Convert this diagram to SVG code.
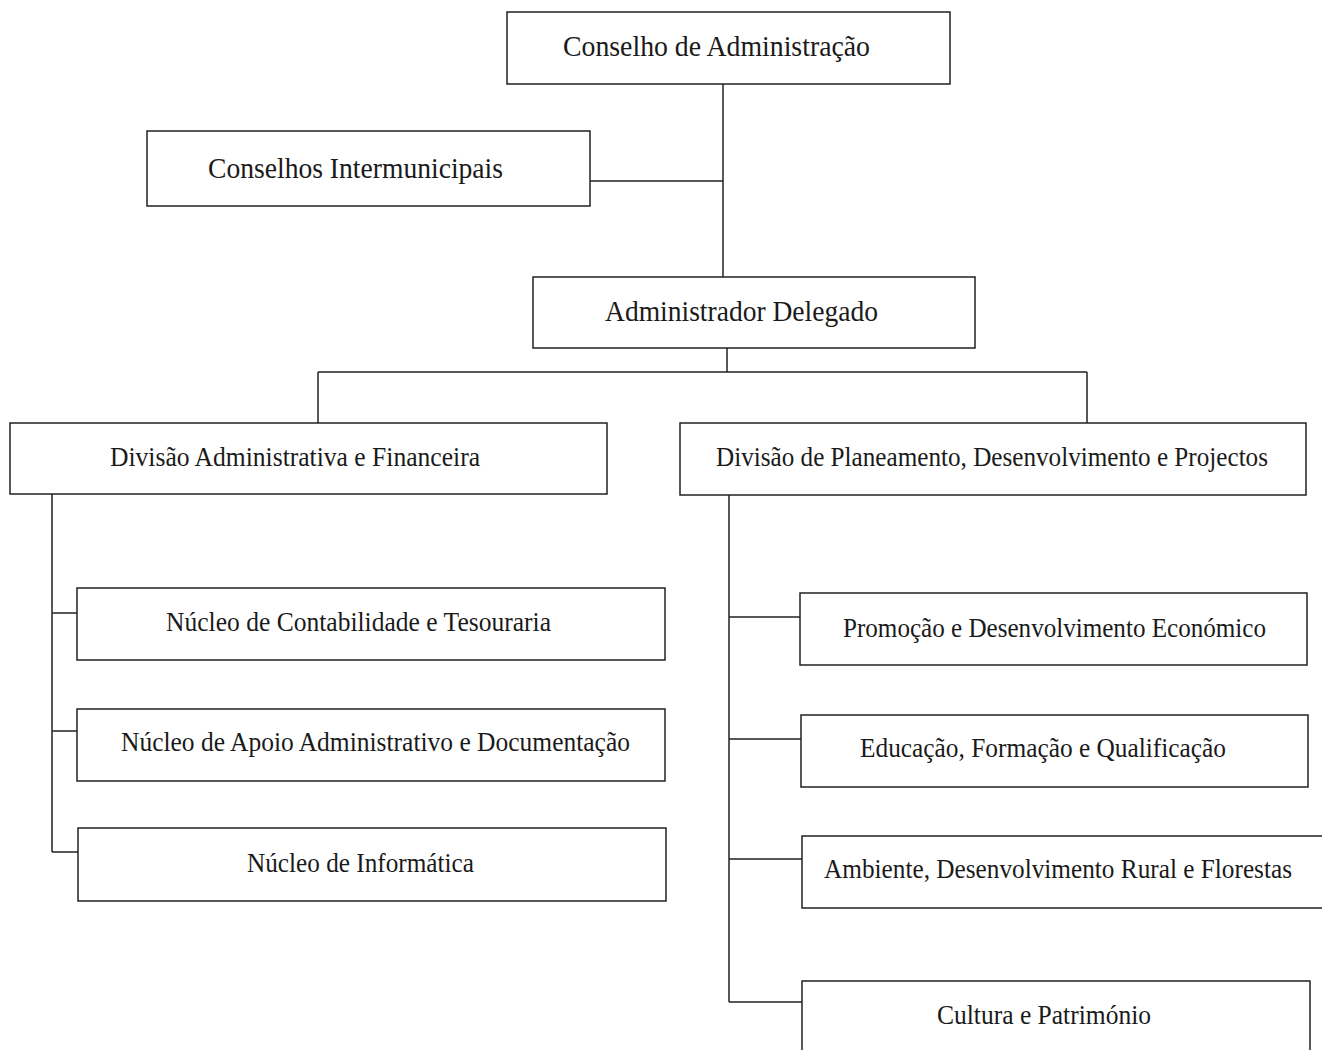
<svg xmlns="http://www.w3.org/2000/svg" width="1322" height="1050" viewBox="0 0 1322 1050">
<style>
.box{fill:#fff;stroke:#222;stroke-width:1.5}
.ln{fill:none;stroke:#222;stroke-width:1.5}
text{font-family:"Liberation Serif","Times New Roman",serif;fill:#1a1a1a;text-anchor:middle}
.t1{font-size:29px}
.t2{font-size:26.5px}
</style>
<rect width="1322" height="1050" fill="#fff"/>
<g id="connectors">
<path class="ln" d="M723,84 V277"/>
<path class="ln" d="M590,181 H723"/>
<path class="ln" d="M727,348 V372 M318,372 H1087 M318,372 V423 M1087,372 V423"/>
<path class="ln" d="M52,494 V852 M52,613 H77 M52,731 H77 M52,852 H78"/>
<path class="ln" d="M729,495 V1002 M729,617 H800 M729,739 H801 M729,859 H802 M729,1002 H802"/>
</g>
<g id="n1"><rect class="box" x="507" y="12" width="443" height="72"/><text class="t1" x="716.5" y="56" textLength="307" lengthAdjust="spacingAndGlyphs">Conselho de Administração</text></g>
<g id="n2"><rect class="box" x="147" y="131" width="443" height="75"/><text class="t1" x="355.5" y="178" textLength="295" lengthAdjust="spacingAndGlyphs">Conselhos Intermunicipais</text></g>
<g id="n3"><rect class="box" x="533" y="277" width="442" height="71"/><text class="t1" x="741.5" y="321" textLength="273" lengthAdjust="spacingAndGlyphs">Administrador Delegado</text></g>
<g id="n4"><rect class="box" x="10" y="423" width="597" height="71"/><text class="t2" x="295" y="466" textLength="370" lengthAdjust="spacingAndGlyphs">Divisão Administrativa e Financeira</text></g>
<g id="n5"><rect class="box" x="680" y="423" width="626" height="72"/><text class="t2" x="992" y="466" textLength="552" lengthAdjust="spacingAndGlyphs">Divisão de Planeamento, Desenvolvimento e Projectos</text></g>
<g id="n6"><rect class="box" x="77" y="588" width="588" height="72"/><text class="t2" x="358.5" y="631" textLength="385" lengthAdjust="spacingAndGlyphs">Núcleo de Contabilidade e Tesouraria</text></g>
<g id="n7"><rect class="box" x="77" y="709" width="588" height="72"/><text class="t2" x="375.5" y="751" textLength="509" lengthAdjust="spacingAndGlyphs">Núcleo de Apoio Administrativo e Documentação</text></g>
<g id="n8"><rect class="box" x="78" y="828" width="588" height="73"/><text class="t2" x="360.5" y="872" textLength="227" lengthAdjust="spacingAndGlyphs">Núcleo de Informática</text></g>
<g id="n9"><rect class="box" x="800" y="593" width="507" height="72"/><text class="t2" x="1054.5" y="637" textLength="423" lengthAdjust="spacingAndGlyphs">Promoção e Desenvolvimento Económico</text></g>
<g id="n10"><rect class="box" x="801" y="715" width="507" height="72"/><text class="t2" x="1043" y="757" textLength="366" lengthAdjust="spacingAndGlyphs">Educação, Formação e Qualificação</text></g>
<g id="n11"><rect class="box" x="802" y="836" width="525" height="72"/><text class="t2" x="1058" y="878" textLength="468" lengthAdjust="spacingAndGlyphs">Ambiente, Desenvolvimento Rural e Florestas</text></g>
<g id="n12"><rect class="box" x="802" y="981" width="508" height="80"/><text class="t2" x="1044" y="1024" textLength="214" lengthAdjust="spacingAndGlyphs">Cultura e Património</text></g>
</svg>
